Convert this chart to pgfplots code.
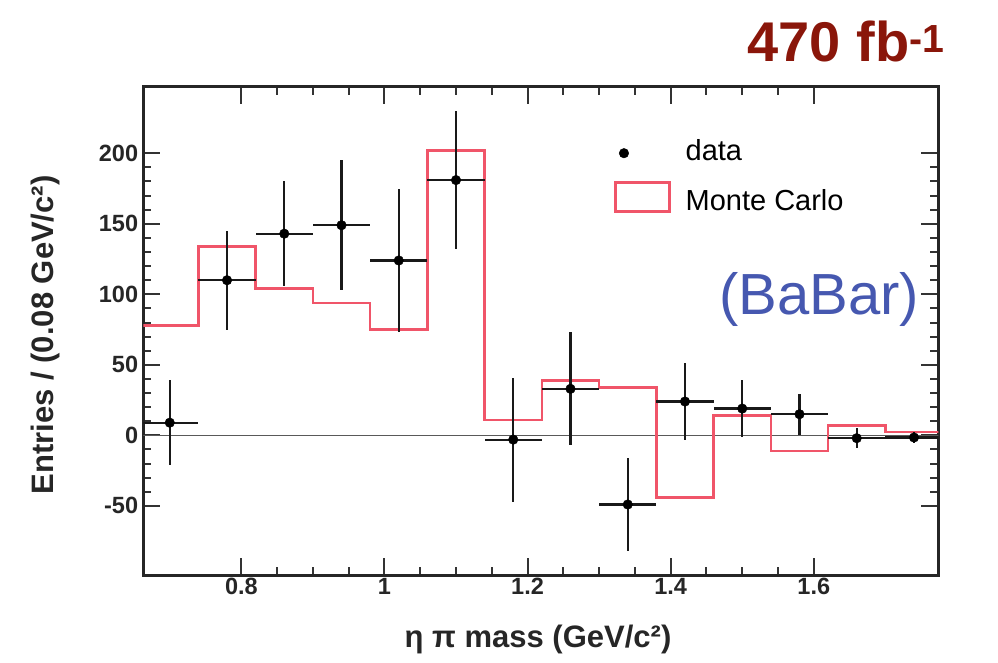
\documentclass[border=0pt]{standalone}
\usepackage{pgfplots}
\usepackage{pgfplotstable}
\pgfplotsset{compat=1.18}
\usepackage{fontspec}
\setmainfont{Liberation Sans}
\definecolor{mcred}{RGB}{240,85,105}
\definecolor{lumired}{RGB}{138,22,10}
\definecolor{babarblue}{RGB}{70,88,176}

\pgfplotstableread{
x y ex ey
0.70 9 0.04 30
0.78 110 0.04 35
0.86 143 0.04 37
0.94 149 0.04 46
1.02 124 0.04 51
1.10 181 0.04 49
1.18 -3 0.04 44
1.26 33 0.04 40
1.34 -49 0.04 33
1.42 24 0.04 27
1.50 19 0.04 20
1.58 15 0.04 14.5
1.66 -2 0.04 7
1.74 -1.5 0.04 4
}\datatab

\pgfplotstableread{
x y
0.66 78
0.74 134
0.82 104
0.90 94
0.98 75
1.06 202
1.14 11
1.22 39
1.30 34
1.38 -44
1.46 14
1.54 -11
1.62 7
1.70 2.5
1.78 2.5
}\mctab

\begin{document}
\begin{tikzpicture}
\useasboundingbox (0,0) rectangle (998pt,662pt);
\begin{axis}[
  at={(143.3pt,87pt)}, anchor=south west, scale only axis,
  width=795pt, height=488pt,
  xmin=0.663, xmax=1.774, ymin=-99, ymax=247,
  xtick={0.8,1,1.2,1.4,1.6}, minor x tick num=3,
  ytick={-50,0,50,100,150,200}, minor y tick num=4,
  tick align=inside, xtick pos=both, ytick pos=both,
  major tick length=17pt, minor tick length=8pt,
  tick style={black!80, line width=2pt},
  axis line style={black!85, line width=3pt},
  /pgf/number format/assume math mode=true,
  ticklabel style={font=\fontsize{23.5}{23.5}\selectfont\bfseries, text=black!85},
  xticklabel style={inner sep=3pt},
  yticklabel style={inner sep=5pt},
  xlabel={η π mass (GeV/c²)},
  ylabel={Entries / (0.08 GeV/c²)},
  label style={font=\fontsize{31}{31}\selectfont\bfseries, text=black!85},
  xlabel style={at={(axis description cs:0.4965,-0.133)}, anchor=center},
  ylabel style={at={(axis description cs:-0.1236,0.492)}, anchor=center},
  reverse legend,
  legend cell align=left,
  legend style={at={(axis description cs:0.5921,0.8955)}, anchor=north west,
    draw=none, fill=none, inner sep=0pt, row sep=13pt, column sep=15pt,
    font=\fontsize{29}{29}\selectfont,
    nodes={inner sep=0pt, text height=22pt, text depth=8pt}},
]
\addplot[black!65, line width=1.6pt, forget plot] coordinates {(0.6,0) (1.9,0)};
\addplot[const plot, mcred, line width=2.4pt,
  legend image code/.code={\draw[mcred, line width=2.4pt] (0pt,-7.5pt) rectangle (54pt,21.5pt);}]
  table[x=x,y=y]{\mctab};
\addlegendentry{Monte Carlo}
\addplot[only marks, mark=*, mark size=4.8pt, black,
  error bars/.cd, x dir=both, x explicit, y dir=both, y explicit,
  error bar style={line width=2.2pt, black!90}, error mark=none]
  table[x=x, y=y, x error=ex, y error=ey]{\datatab};
\addlegendentry{data}
\end{axis}
\node[anchor=base east, inner sep=0pt, text=lumired, font=\fontsize{56}{56}\selectfont\bfseries] at (945pt,600pt) {470 fb\textsuperscript{-1}};
\node[anchor=base, inner sep=0pt, text=babarblue, font=\fontsize{58}{58}\selectfont] at (819pt,347pt) {(BaBar)};
\end{tikzpicture}
\end{document}
